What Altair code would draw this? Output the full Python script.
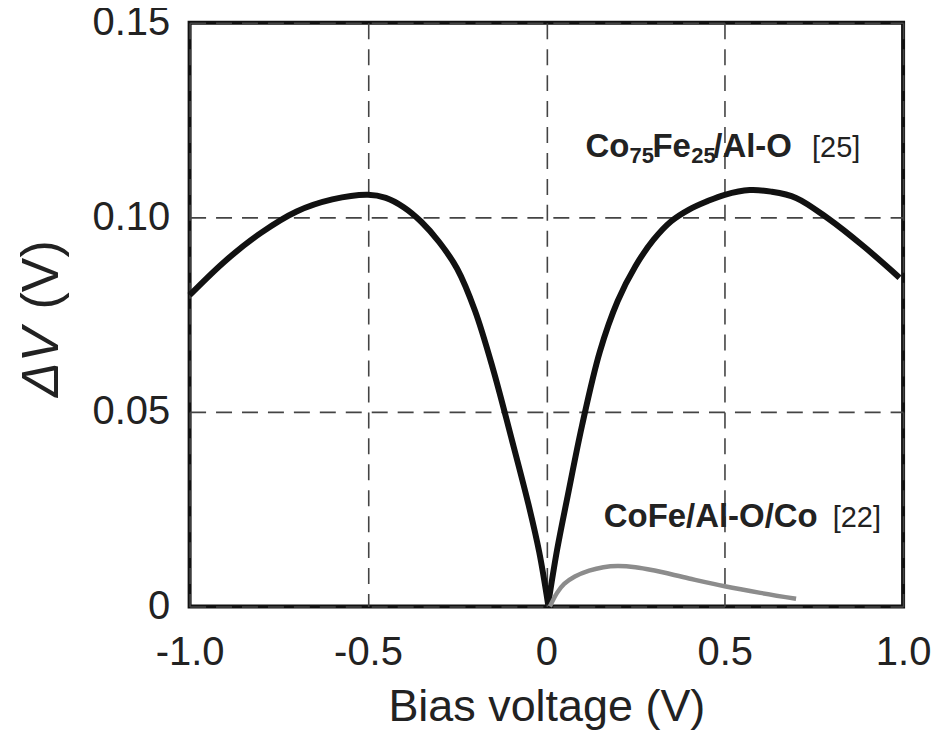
import altair as alt
import pandas as pd

# ---- data ----
# Co75Fe25/Al-O [25]: negative-bias branch and positive-bias branch (they meet at the cusp)
bias_cofe75_neg = [-1.0, -0.9, -0.8, -0.7, -0.6, -0.5, -0.45, -0.4, -0.35, -0.3, -0.25, -0.2,
                   -0.15, -0.1, -0.05, -0.02, 0.005]
dv_cofe75_neg = [0.0800, 0.0888, 0.0960, 0.1015, 0.1046, 0.1058, 0.1050, 0.1026, 0.0988, 0.0936,
                 0.0868, 0.0760, 0.0612, 0.0440, 0.0262, 0.0140, 0.0005]
bias_cofe75_pos = [0.005, 0.03, 0.06, 0.1, 0.15, 0.2, 0.25, 0.3, 0.35, 0.4, 0.45, 0.5, 0.57,
                   0.63, 0.7, 0.79, 0.89, 0.99]
dv_cofe75_pos = [0.0005, 0.0145, 0.0285, 0.0465, 0.0655, 0.0785, 0.0875, 0.0942, 0.0990, 0.1020,
                 0.1041, 0.1058, 0.1070, 0.1066, 0.1050, 0.0997, 0.0925, 0.0845]

# CoFe/Al-O/Co [22]
bias_cofe_co = [0.01, 0.03, 0.05, 0.08, 0.12, 0.16, 0.2, 0.25, 0.3, 0.4, 0.5, 0.6, 0.7]
dv_cofe_co = [0.0, 0.0035, 0.0058, 0.0077, 0.0092, 0.0101, 0.0104, 0.0101, 0.0093, 0.0072,
              0.0052, 0.0035, 0.0020]

x_ticks = [-1.0, -0.5, 0.0, 0.5, 1.0]
y_ticks = [0.0, 0.05, 0.10, 0.15]

# upper label: pieces of "Co75Fe25/Al-O" (subscripts as smaller, lowered text)
main_pieces = ["Co", "75", "Fe", "25", "/Al-O"]
main_is_sub = [False, True, False, True, False]
main_offsets = [0, 44, 67, 106, 128]
label_main_x = 0.110
label_main_y = 0.1154
label_main_ref = "[25]"
label_main_ref_x = 0.880

label_low = "CoFe/Al-O/Co"
label_low_x = 0.161
label_low_y = 0.0205
label_low_ref = "[22]"
label_low_ref_x = 0.938

FONT = "Liberation Sans"
TXT = "#222222"
GRID = dict(grid=True, gridDash=[16, 10], gridColor="#444444", gridWidth=1.6)

black_df = pd.DataFrame({
    "bias": bias_cofe75_neg + bias_cofe75_pos,
    "dv": dv_cofe75_neg + dv_cofe75_pos,
    "branch": ["neg"] * len(bias_cofe75_neg) + ["pos"] * len(bias_cofe75_pos),
})
gray_df = pd.DataFrame({"bias": bias_cofe_co, "dv": dv_cofe_co})

x_enc = alt.X(
    "bias:Q",
    scale=alt.Scale(domain=[-1.0, 1.0], nice=False, zero=False),
    axis=alt.Axis(
        values=x_ticks, title="Bias voltage (V)",
        labelExpr="datum.value == 0 ? '0' : (datum.value < 0 ? '-' : '') + format(abs(datum.value), '.1f')",
        ticks=False, domain=False, labelFlush=False,
        labelFont=FONT, labelFontSize=40, labelColor=TXT, labelPadding=26,
        titleFont=FONT, titleFontSize=45, titleFontWeight="normal", titleColor=TXT, titlePadding=12,
        **GRID,
    ),
)
y_enc = alt.Y(
    "dv:Q",
    scale=alt.Scale(domain=[0.0, 0.15], nice=False),
    axis=alt.Axis(
        values=y_ticks, title=None,
        labelExpr="datum.value == 0 ? '0' : format(datum.value, '.2f')",
        ticks=False, domain=False, labelFlush=False,
        labelFont=FONT, labelFontSize=40, labelColor=TXT, labelPadding=20,
        **GRID,
    ),
)

black_line = alt.Chart(black_df).mark_line(
    color="#111111", strokeWidth=6, interpolate="catmull-rom", strokeJoin="round"
).encode(x=x_enc, y=y_enc, detail="branch:N")

gray_line = alt.Chart(gray_df).mark_line(
    color="#8c8c8c", strokeWidth=4.5, interpolate="catmull-rom"
).encode(x="bias:Q", y="dv:Q")


def text_layer(x, y, label, align, weight, size, dx=0, dy=0):
    df = pd.DataFrame({"bias": [x], "dv": [y], "label": [label]})
    return alt.Chart(df).mark_text(
        align=align, baseline="alphabetic", font=FONT, fontSize=size,
        fontWeight=weight, color=TXT, dx=dx, dy=dy
    ).encode(x="bias:Q", y="dv:Q", text="label:N")


text_layers = []
for piece, is_sub, off in zip(main_pieces, main_is_sub, main_offsets):
    text_layers.append(text_layer(label_main_x, label_main_y, piece, "left", "bold",
                                  22 if is_sub else 33, dx=off, dy=6 if is_sub else 0))
text_layers.append(text_layer(label_main_ref_x, label_main_y, label_main_ref, "right", "normal", 29))
text_layers.append(text_layer(label_low_x, label_low_y, label_low, "left", "bold", 33))
text_layers.append(text_layer(label_low_ref_x, label_low_y, label_low_ref, "right", "normal", 29))

ytitle_a = alt.Chart(pd.DataFrame({"t": ["\u0394V"]})).mark_text(
    angle=270, align="left", baseline="middle", font=FONT, fontSize=52,
    fontStyle="italic", color=TXT
).encode(x=alt.value(-148), y=alt.value(375), text="t:N")

ytitle_b = alt.Chart(pd.DataFrame({"t": ["(V)"]})).mark_text(
    angle=270, align="right", baseline="middle", font=FONT, fontSize=52,
    color=TXT
).encode(x=alt.value(-148), y=alt.value(218), text="t:N")

chart = alt.layer(
    black_line, gray_line, *text_layers, ytitle_a, ytitle_b
).properties(
    width=715, height=585,
    background="white",
    autosize=alt.AutoSizeParams(type="none"),
    padding={"left": 182, "top": 14, "right": 40, "bottom": 138},
).configure_view(
    stroke="#111111", strokeWidth=4
)

chart.save("out.html", embed_options={"renderer": "svg", "actions": False})
